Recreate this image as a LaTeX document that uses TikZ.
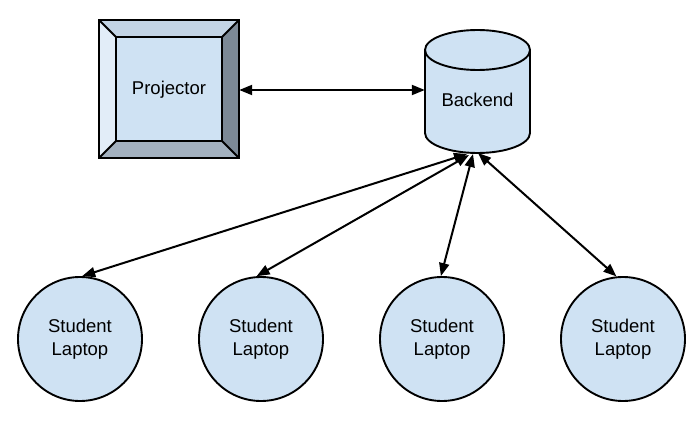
\documentclass[tikz,border=0pt]{standalone}
\usepackage{fontspec}
\setmainfont{Liberation Sans}
\usetikzlibrary{arrows.meta}
\definecolor{boxfill}{HTML}{CFE2F3}
\definecolor{bevleft}{HTML}{E2EDF8}
\definecolor{bevtop}{HTML}{C3D4E5}
\definecolor{bevright}{HTML}{7C8996}
\definecolor{bevbottom}{HTML}{A3B1BF}
\tikzset{
  shapeline/.style={line width=1.9pt, draw=black, line join=miter},
  laptop/.style={circle, shapeline, fill=boxfill, minimum size=124pt, inner sep=0pt, align=center, font=\fontsize{18.5pt}{23pt}\selectfont},
  conn/.style={line width=2pt, {Triangle[length=13pt,width=10pt]}-{Triangle[length=13pt,width=10pt]}},
  lbl/.style={font=\fontsize{18.5pt}{23pt}\selectfont}
}
\begin{document}
\begin{tikzpicture}[x=1pt,y=-1pt]
\useasboundingbox (0,0) rectangle (698,422);
% Projector (bevelled box)
\node[minimum width=140pt, minimum height=138pt, inner sep=0pt, lbl] (proj) at (169,89) {};
\fill[bevleft] (99,20) -- (116,37) -- (116,141) -- (99,158) -- cycle;
\fill[bevtop] (99,20) -- (239,20) -- (222,37) -- (116,37) -- cycle;
\fill[bevright] (239,20) -- (239,158) -- (222,141) -- (222,37) -- cycle;
\fill[bevbottom] (99,158) -- (239,158) -- (222,141) -- (116,141) -- cycle;
\fill[boxfill] (116,37) rectangle (222,141);
\draw[shapeline] (99,20) rectangle (239,158);
\draw[shapeline] (116,37) rectangle (222,141);
\draw[shapeline] (99,20) -- (116,37) (239,20) -- (222,37) (239,158) -- (222,141) (99,158) -- (116,141);
\node[lbl] (projtext) at (169,90) {Projector};
% Backend (cylinder)
\filldraw[shapeline, fill=boxfill] (425,50) -- (425,133) arc[start angle=180, end angle=360, x radius=52.5pt, y radius=20pt] -- (530,50) arc[start angle=0, end angle=180, x radius=52.5pt, y radius=20pt] -- cycle;
\draw[shapeline] (425,50) arc[start angle=180, end angle=360, x radius=52.5pt, y radius=20pt];
\node[minimum width=105pt, minimum height=123pt, inner sep=0pt, lbl, text height=0pt, text depth=0pt] (backend) at (477.5,91.5) {};
\node[lbl] (backendtext) at (477.5,100) {Backend};
% Laptops
\node[laptop] (s1) at (80,339) {\raisebox{-2pt}{Student}\\\raisebox{-2pt}{Laptop}};
\node[laptop] (s2) at (261,339) {\raisebox{-2pt}{Student}\\\raisebox{-2pt}{Laptop}};
\node[laptop] (s3) at (442,339) {\raisebox{-2pt}{Student}\\\raisebox{-2pt}{Laptop}};
\node[laptop] (s4) at (623,339) {\raisebox{-2pt}{Student}\\\raisebox{-2pt}{Laptop}};
% connection points on backend bottom
\coordinate (b1) at (467,154);
\coordinate (b2) at (469,155);
\coordinate (b3) at (473,154);
\coordinate (b4) at (478,153);
% Connectors
\draw[conn] (proj.east |- 0,90) -- (backend.west |- 0,90);
\draw[conn] (b1) -- (s1.88);
\draw[conn] (b2) -- (s2.94);
\draw[conn] (b3) -- (s3.91);
\draw[conn] (b4) -- (s4.96);
\end{tikzpicture}
\end{document}
